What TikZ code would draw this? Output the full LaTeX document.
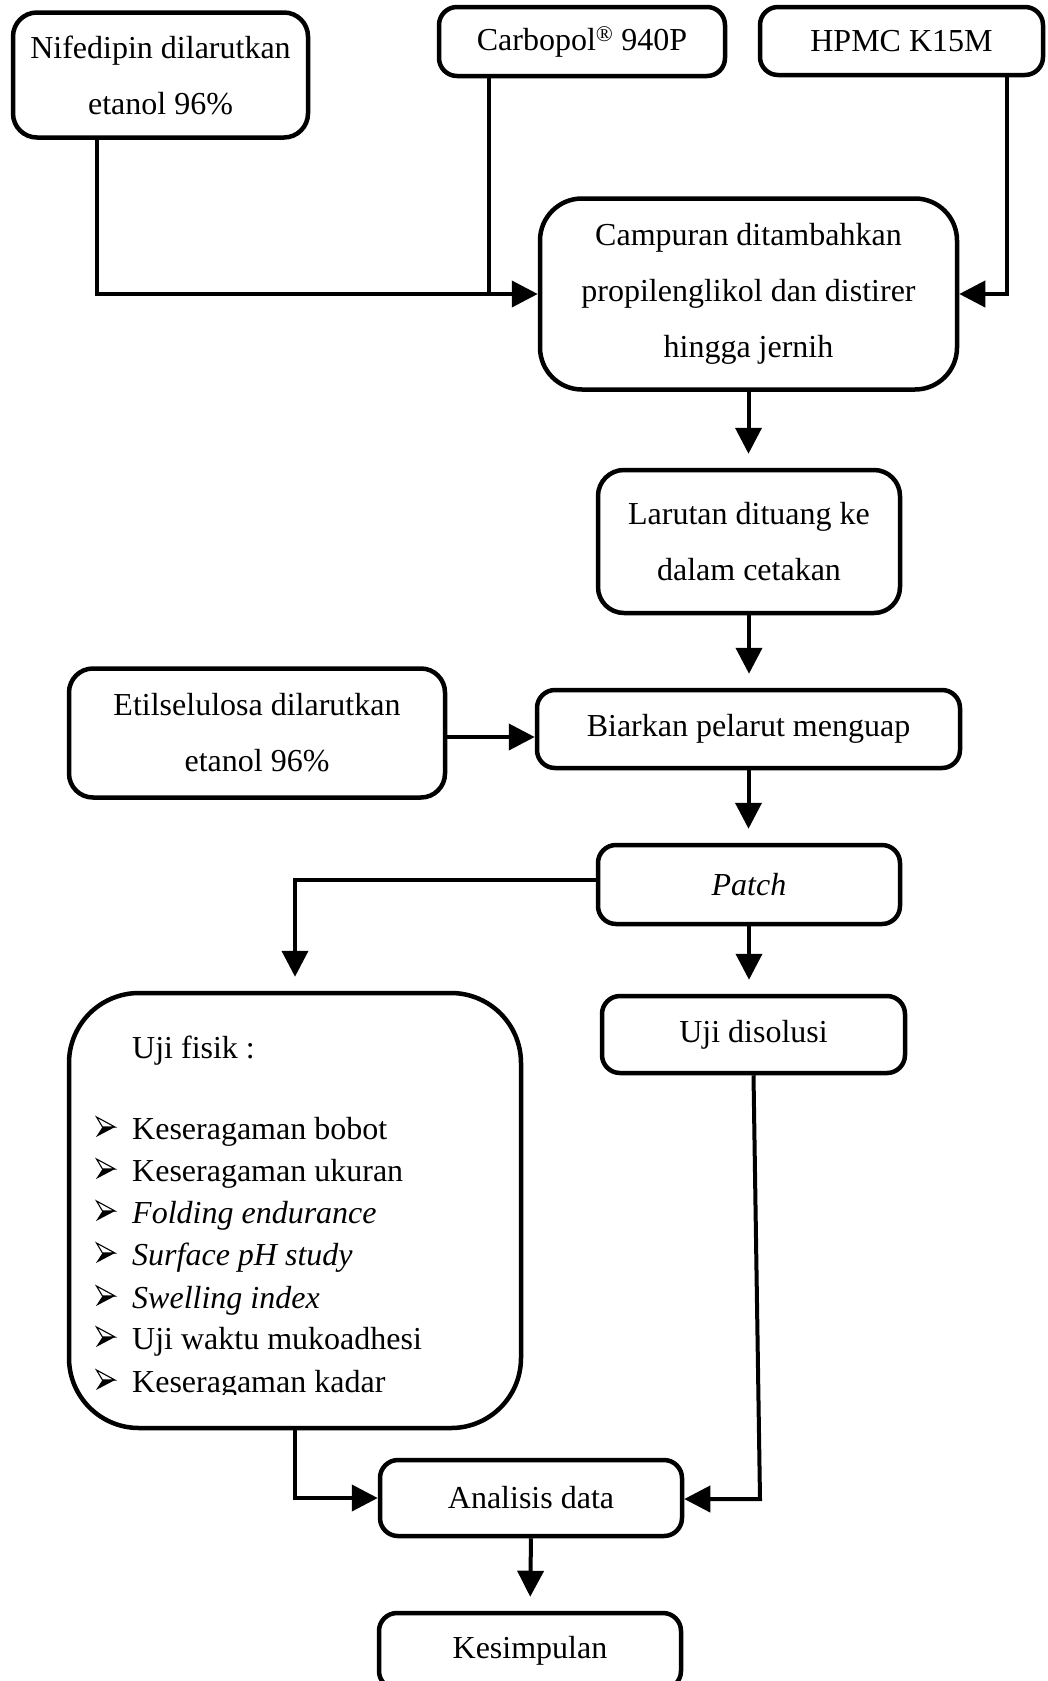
\documentclass[tikz,border=0pt]{standalone}
\usepackage{fontspec}
\setmainfont{Liberation Serif}
\usetikzlibrary{arrows.meta,calc}
\begin{document}
\begin{tikzpicture}[x=1pt,y=-1pt,
  box/.style={draw, line width=4.5pt, rounded corners=18pt, inner sep=0pt, align=center,
    font=\fontsize{32}{56}\selectfont},
  conn/.style={line width=4pt, -{Triangle[length=26pt,width=26pt]}},
  plain/.style={line width=4pt},
  down/.style={conn, shorten >=14pt},
  item/.style={anchor=base west, inner sep=0pt, font=\fontsize{32}{40}\selectfont},
  bulfill/.style={fill=black},
  bulline/.style={draw=black, line width=1.1pt, line join=miter}
]
\clip (0,0) rectangle (1047,1681);
\fill[white] (0,0) rectangle (1047,1681);

% boxes
\node[box, rounded corners=24pt, minimum width=295pt, minimum height=125pt] (nf) at (160.5,75) {Nifedipin dilarutkan\\etanol 96\%};
\node[box, minimum width=286pt, minimum height=69pt] (cb) at (582,41.5) {Carbopol\textsuperscript{®} 940P};
\node[box, minimum width=283pt, minimum height=68pt] (hp) at (901.5,41) {HPMC K15M};
\node[box, rounded corners=42pt, minimum width=417pt, minimum height=191pt] (cp) at (748.5,294) {Campuran ditambahkan\\propilenglikol dan distirer\\hingga jernih};
\node[box, rounded corners=26pt, minimum width=302pt, minimum height=143pt] (lr) at (749,541.5) {Larutan dituang ke\\dalam cetakan};
\node[box, minimum width=423pt, minimum height=78pt] (bp) at (748.5,729) {Biarkan pelarut menguap};
\node[box, rounded corners=24pt, minimum width=376pt, minimum height=129pt] (et) at (257,733) {Etilselulosa dilarutkan\\etanol 96\%};
\node[box, minimum width=302pt, minimum height=79pt] (pt) at (749,884.5) {\itshape Patch};
\node[box, minimum width=303pt, minimum height=77pt] (ud) at (753.5,1034.5) {Uji disolusi};
\node[box, rounded corners=70pt, minimum width=452pt, minimum height=435pt] (uf) at (295,1210.5) {};
\node[box, minimum width=302pt, minimum height=76pt] (ad) at (531,1498) {Analisis data};
\node[box, minimum width=302pt, minimum height=76pt] (ks) at (530,1651) {Kesimpulan};

% contents of Uji fisik
\node[item] (uft) at (132,1058) {Uji fisik :};
\begin{scope}
\clip (0,0) rectangle (1047,1394);
\foreach \y/\t/\n in {1139/{Keseragaman bobot}/1,1181/{Keseragaman ukuran}/2,
  1223/{\itshape Folding endurance}/3,1265/{\itshape Surface pH study}/4,
  1308/{\itshape Swelling index}/5,1349/{Uji waktu mukoadhesi}/6,1392/{Keseragaman kadar}/7}{
  \begin{scope}[shift={(96,\y)}]
    \fill[bulfill] (0,-2) -- (19,-12) -- (6.5,-12) -- cycle;
    \draw[bulline] (0.5,-22) -- (19,-12) -- (6.5,-12) -- cycle;
  \end{scope}
  \node[item] (u\n) at (132,\y) {\t};
}
\end{scope}

% connectors
\coordinate (nfx) at (97,0);
\coordinate (cbx) at (489,0);
\coordinate (hpx) at (1007,0);
\coordinate (etY) at (0,737);
\coordinate (ptY) at (0,880);
\coordinate (udb) at (760,1499);

\draw[conn] (nf.south -| nfx) |- (cp.west);
\draw[plain] (cb.south -| cbx) -- (cbx |- cp.west);
\draw[conn] (hp.south -| hpx) |- (cp.east);
\draw[down] (cp.south) -- (cp.south |- lr.north);
\draw[down] (lr.south) -- (lr.south |- bp.north);
\draw[conn] (et.east |- etY) -- (bp.west |- etY);
\draw[down] (bp.south) -- (bp.south |- pt.north);
\draw[down] (pt.south) -- (pt.south |- ud.north);
\draw[down] (pt.west |- ptY) -| (uf.north);
\draw[conn] (ud.south) -- (udb) -- (udb -| ad.east);
\draw[conn] (uf.south) |- (ad.west);
\draw[down] (ad.south) -- (ks.north);
\end{tikzpicture}
\end{document}
